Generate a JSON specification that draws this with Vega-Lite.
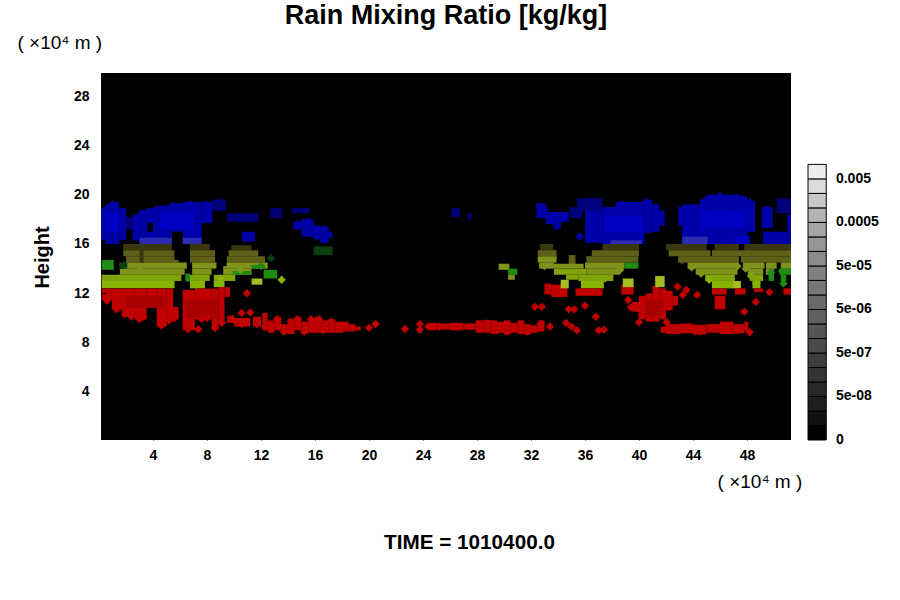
{
"$schema":"https://vega.github.io/schema/vega-lite/v6.json",
"background":"white",
"padding":{"left":12,"top":2,"right":5,"bottom":5},
"spacing":-2,
"config":{"font":"Liberation Sans","view":{"stroke":null}},
"datasets":{
"cells":[
{"x0":0.15,"x1":0.5,"y0":16.3,"y1":18.9,"k":"b1"},{"x0":0.5,"x1":1,"y0":16,"y1":19.2,"k":"b1"},{"x0":1,"x1":1.5,"y0":16,"y1":19.4,"k":"b1"},{"x0":1.5,"x1":2,"y0":16.3,"y1":18.9,"k":"b1"},{"x0":2,"x1":2.5,"y0":17.2,"y1":18.2,"k":"b0"},{"x0":2.5,"x1":3,"y0":16.3,"y1":18.4,"k":"b1"},{"x0":3,"x1":3.5,"y0":16,"y1":18.7,"k":"b1"},{"x0":3.5,"x1":4,"y0":16,"y1":18.9,"k":"b1"},{"x0":4,"x1":4.5,"y0":16,"y1":19,"k":"b1"},{"x0":4.5,"x1":5,"y0":16,"y1":19.1,"k":"b1"},{"x0":5,"x1":5.4,"y0":16.2,"y1":19.2,"k":"b1"},{"x0":5.4,"x1":6.2,"y0":17,"y1":19.3,"k":"b1"},{"x0":6.2,"x1":7.6,"y0":16,"y1":19.4,"k":"b1"},{"x0":7.6,"x1":8.4,"y0":17.7,"y1":19.4,"k":"b1"},{"x0":8.4,"x1":9.4,"y0":18.7,"y1":19.6,"k":"b0"},
{"x0":4.5,"x1":7,"y0":17.2,"y1":18.6,"k":"b2"},{"x0":0.5,"x1":1.5,"y0":17,"y1":18.5,"k":"b2"},{"x0":3,"x1":5.4,"y0":16,"y1":16.5,"k":"b3"},{"x0":6.2,"x1":7.6,"y0":16,"y1":16.5,"k":"b3"},{"x0":3.6,"x1":4,"y0":17,"y1":17.7,"k":"n"},
{"x0":9.5,"x1":11.8,"y0":17.8,"y1":18.5,"k":"b0"},{"x0":12.7,"x1":13.55,"y0":18.1,"y1":18.9,"k":"b0"},{"x0":10.6,"x1":11.55,"y0":16.2,"y1":17,"k":"b1"},{"x0":14.3,"x1":15.6,"y0":18.5,"y1":18.9,"k":"b0"},
{"x0":14.4,"x1":15,"y0":17.2,"y1":17.8,"k":"b1"},{"x0":15,"x1":15.9,"y0":16.6,"y1":18,"k":"b1"},{"x0":15.9,"x1":16.4,"y0":16.4,"y1":17.5,"k":"b1"},{"x0":16.4,"x1":17,"y0":16.1,"y1":17.4,"k":"b1"},{"x0":17,"x1":17.3,"y0":16.5,"y1":17,"k":"b1"},
{"x0":15.9,"x1":17.3,"y0":15.1,"y1":15.8,"k":"gd"},{"x0":26.1,"x1":26.75,"y0":18.2,"y1":18.9,"k":"b0"},{"x0":27.3,"x1":27.6,"y0":18,"y1":18.5,"k":"b0"},
{"x0":1.8,"x1":5.4,"y0":15.5,"y1":16,"k":"o0"},{"x0":6.74,"x1":8.2,"y0":15.5,"y1":16,"k":"o0"},{"x0":9.8,"x1":11.3,"y0":15.5,"y1":15.9,"k":"o0"},
{"x0":1.8,"x1":5.6,"y0":15,"y1":15.5,"k":"o1"},{"x0":6.74,"x1":8.6,"y0":15,"y1":15.5,"k":"o1"},{"x0":9.6,"x1":11.8,"y0":15,"y1":15.5,"k":"o1"},
{"x0":2,"x1":5.9,"y0":14.5,"y1":15,"k":"o1"},{"x0":6.74,"x1":8.6,"y0":14.5,"y1":15,"k":"o1"},{"x0":9.45,"x1":12.3,"y0":14.5,"y1":15,"k":"o1"},
{"x0":1.8,"x1":6.5,"y0":14,"y1":14.5,"k":"o2"},{"x0":6.9,"x1":8.7,"y0":14,"y1":14.5,"k":"o2"},{"x0":9.2,"x1":12.5,"y0":14,"y1":14.5,"k":"o2"},
{"x0":1.55,"x1":6.35,"y0":13.5,"y1":14,"k":"o2"},{"x0":6.9,"x1":8.35,"y0":13.5,"y1":14,"k":"o2"},{"x0":9.2,"x1":11.3,"y0":13.5,"y1":14,"k":"o2"},{"x0":11.3,"x1":12.3,"y0":14,"y1":14.3,"k":"g"},{"x0":9.9,"x1":11.3,"y0":13.5,"y1":13.8,"k":"g"},
{"x0":0.2,"x1":6.1,"y0":13,"y1":13.5,"k":"o4"},{"x0":6.74,"x1":8.2,"y0":13,"y1":13.5,"k":"o4"},{"x0":8.5,"x1":10.1,"y0":13,"y1":13.5,"k":"o4"},
{"x0":0.2,"x1":5.6,"y0":12.4,"y1":13,"k":"o3"},{"x0":6.74,"x1":7.85,"y0":12.4,"y1":13,"k":"o3"},{"x0":8.5,"x1":9.3,"y0":12.5,"y1":13,"k":"o3"},
{"x0":0.2,"x1":1.1,"y0":13.9,"y1":14.7,"k":"g"},{"x0":1.5,"x1":2.1,"y0":14,"y1":14.5,"k":"gd"},{"x0":6.4,"x1":6.75,"y0":12.95,"y1":13.6,"k":"g"},{"x0":3,"x1":3.3,"y0":14.5,"y1":16,"k":"o0"},{"x0":5.6,"x1":6,"y0":14.7,"y1":15.4,"k":"n"},{"x0":9,"x1":9.45,"y0":14.2,"y1":16,"k":"n"},{"x0":12.2,"x1":13.2,"y0":13.2,"y1":13.9,"k":"g"},{"x0":11.3,"x1":12.1,"y0":12.7,"y1":13.2,"k":"o5"},
{"x0":29.6,"x1":30.4,"y0":13.9,"y1":14.4,"k":"o2"},{"x0":30.3,"x1":31,"y0":13.5,"y1":14,"k":"g"},{"x0":30.3,"x1":30.8,"y0":13.1,"y1":13.5,"k":"o2"},
{"x0":0.2,"x1":0.95,"y0":11.46,"y1":12.38,"k":"r1"},{"x0":0.95,"x1":1.7,"y0":10.65,"y1":12.38,"k":"r1"},{"x0":1.7,"x1":2.66,"y0":10.1,"y1":12.38,"k":"r1"},{"x0":2.66,"x1":3.53,"y0":9.9,"y1":12.38,"k":"r1"},{"x0":3.53,"x1":4.27,"y0":10.8,"y1":12.38,"k":"r1"},{"x0":4.27,"x1":5,"y0":9.3,"y1":12.38,"k":"r1"},{"x0":5,"x1":5.5,"y0":9.9,"y1":12.38,"k":"r1"},{"x0":5.5,"x1":5.9,"y0":9.9,"y1":10.9,"k":"r1"},{"x0":6.2,"x1":7.1,"y0":9,"y1":12.28,"k":"r1"},{"x0":7.1,"x1":8.35,"y0":9.9,"y1":12.38,"k":"r1"},{"x0":8.35,"x1":8.85,"y0":9,"y1":12.38,"k":"r1"},{"x0":8.85,"x1":9.3,"y0":9.6,"y1":12.5,"k":"r1"},{"x0":9.3,"x1":9.7,"y0":11.7,"y1":12.5,"k":"r1"},
{"x0":2,"x1":4.9,"y0":10.8,"y1":11.8,"k":"r2"},{"x0":6.4,"x1":8.8,"y0":10,"y1":11.5,"k":"r2"},
{"x0":9.5,"x1":10,"y0":9.6,"y1":10.2,"k":"r1"},{"x0":10,"x1":11.2,"y0":9.3,"y1":10,"k":"r1"},{"x0":11.4,"x1":12,"y0":9.3,"y1":10.1,"k":"r1"},{"x0":12.1,"x1":12.5,"y0":9,"y1":10.4,"k":"r1"},{"x0":12.5,"x1":13,"y0":8.8,"y1":9.8,"k":"r1"},{"x0":13,"x1":13.5,"y0":9,"y1":10.1,"k":"r1"},{"x0":13.5,"x1":14,"y0":8.7,"y1":9.5,"k":"r1"},{"x0":14,"x1":14.5,"y0":8.7,"y1":9.9,"k":"r1"},{"x0":14.5,"x1":15,"y0":9,"y1":10.1,"k":"r1"},{"x0":15,"x1":15.5,"y0":8.7,"y1":9.7,"k":"r1"},{"x0":15.5,"x1":16,"y0":8.8,"y1":10,"k":"r1"},{"x0":16,"x1":16.5,"y0":8.8,"y1":10.1,"k":"r1"},{"x0":16.5,"x1":17,"y0":8.8,"y1":9.8,"k":"r1"},{"x0":17,"x1":17.5,"y0":8.8,"y1":9.9,"k":"r1"},{"x0":17.5,"x1":18,"y0":8.8,"y1":9.7,"k":"r1"},{"x0":18,"x1":18.5,"y0":8.9,"y1":9.7,"k":"r1"},{"x0":18.5,"x1":19,"y0":8.9,"y1":9.5,"k":"r1"},{"x0":19,"x1":19.4,"y0":9,"y1":9.3,"k":"r1"},
{"x0":24.4,"x1":25,"y0":9,"y1":9.6,"k":"r1"},{"x0":25,"x1":26,"y0":9.05,"y1":9.55,"k":"r1"},{"x0":26,"x1":27,"y0":9,"y1":9.6,"k":"r1"},{"x0":27,"x1":27.9,"y0":9.05,"y1":9.55,"k":"r1"},{"x0":27.9,"x1":28.5,"y0":8.8,"y1":9.8,"k":"r1"},{"x0":28.5,"x1":29,"y0":8.8,"y1":9.85,"k":"r1"},{"x0":29,"x1":29.5,"y0":8.7,"y1":9.8,"k":"r1"},{"x0":29.5,"x1":30,"y0":8.8,"y1":9.7,"k":"r1"},{"x0":30,"x1":30.5,"y0":8.65,"y1":9.8,"k":"r1"},{"x0":30.5,"x1":31,"y0":8.8,"y1":9.6,"k":"r1"},{"x0":31,"x1":31.5,"y0":8.7,"y1":9.8,"k":"r1"},{"x0":31.5,"x1":32,"y0":8.65,"y1":9.5,"k":"r1"},{"x0":32,"x1":32.5,"y0":8.8,"y1":9.4,"k":"r1"},{"x0":32.5,"x1":33,"y0":8.9,"y1":9.8,"k":"r1"},
{"x0":41.6,"x1":42,"y0":8.8,"y1":9.3,"k":"r1"},{"x0":42,"x1":43,"y0":8.7,"y1":9.5,"k":"r1"},{"x0":43,"x1":44,"y0":8.75,"y1":9.55,"k":"r1"},{"x0":44,"x1":45,"y0":8.65,"y1":9.45,"k":"r1"},{"x0":45,"x1":46,"y0":8.8,"y1":9.5,"k":"r1"},{"x0":46,"x1":47,"y0":8.7,"y1":9.7,"k":"r1"},{"x0":47,"x1":47.8,"y0":8.75,"y1":9.5,"k":"r1"},{"x0":47.8,"x1":48.1,"y0":8.9,"y1":9.7,"k":"r1"},
{"x0":32.4,"x1":33.1,"y0":18.1,"y1":19.3,"k":"b1"},{"x0":33.1,"x1":33.7,"y0":17.6,"y1":18.6,"k":"b1"},{"x0":33.7,"x1":34.2,"y0":17.2,"y1":18.6,"k":"b1"},{"x0":34.2,"x1":34.8,"y0":17.8,"y1":18.6,"k":"b1"},{"x0":34.9,"x1":35.8,"y0":18.1,"y1":19,"k":"b0"},{"x0":35.4,"x1":37.3,"y0":18.7,"y1":19.7,"k":"b0"},{"x0":36,"x1":37.3,"y0":16.1,"y1":18.7,"k":"b1"},{"x0":37.3,"x1":38.3,"y0":16,"y1":19,"k":"b1"},{"x0":38.3,"x1":40.4,"y0":16,"y1":19.4,"k":"b1"},{"x0":40.4,"x1":41,"y0":16.9,"y1":19.6,"k":"b1"},{"x0":41,"x1":41.5,"y0":17,"y1":19.2,"k":"b1"},{"x0":41.5,"x1":41.9,"y0":17.5,"y1":18.7,"k":"b1"},{"x0":37.5,"x1":40.3,"y0":17,"y1":18.3,"k":"b2"},{"x0":37.9,"x1":40.2,"y0":16,"y1":16.3,"k":"b3"},
{"x0":42.9,"x1":43.2,"y0":17.5,"y1":19,"k":"b1"},{"x0":43.2,"x1":44.5,"y0":16,"y1":19.2,"k":"b1"},{"x0":44.5,"x1":45.1,"y0":16,"y1":19.6,"k":"b1"},{"x0":45.1,"x1":47,"y0":16,"y1":20,"k":"b1"},{"x0":47,"x1":48,"y0":16.7,"y1":19.9,"k":"b1"},{"x0":48,"x1":48.6,"y0":17,"y1":19.5,"k":"b1"},{"x0":47,"x1":48.2,"y0":16,"y1":16.7,"k":"b2"},{"x0":43.2,"x1":45.1,"y0":16,"y1":16.6,"k":"b3"},{"x0":44.5,"x1":47.8,"y0":17.3,"y1":18.7,"k":"b2"},{"x0":49.1,"x1":49.9,"y0":17.3,"y1":19,"k":"b1"},{"x0":49.2,"x1":51,"y0":16,"y1":17,"k":"b1"},{"x0":50.2,"x1":51.26,"y0":18.5,"y1":19.7,"k":"b0"},{"x0":51,"x1":51.26,"y0":16,"y1":18.4,"k":"b1"},
{"x0":32.66,"x1":33.65,"y0":15.5,"y1":16,"k":"o0"},{"x0":37.3,"x1":40,"y0":15.5,"y1":16,"k":"o0"},{"x0":42,"x1":45,"y0":15.5,"y1":16,"k":"o0"},{"x0":45.6,"x1":47.4,"y0":15.5,"y1":16,"k":"o0"},{"x0":47.8,"x1":51.26,"y0":15.5,"y1":16,"k":"o0"},
{"x0":32.5,"x1":33.9,"y0":15,"y1":15.5,"k":"o1"},{"x0":36.5,"x1":40,"y0":15,"y1":15.5,"k":"o1"},{"x0":42.2,"x1":45.3,"y0":15,"y1":15.5,"k":"o1"},{"x0":45.4,"x1":51.26,"y0":15,"y1":15.5,"k":"o1"},
{"x0":32.5,"x1":33.9,"y0":14.5,"y1":15,"k":"o2"},{"x0":34.8,"x1":35.3,"y0":14.3,"y1":15.1,"k":"o1"},{"x0":36.1,"x1":39.95,"y0":14.5,"y1":15,"k":"o1"},{"x0":42.9,"x1":47.4,"y0":14.5,"y1":15,"k":"o1"},{"x0":47.55,"x1":51.26,"y0":14.5,"y1":15,"k":"o1"},
{"x0":32.6,"x1":33.7,"y0":14,"y1":14.5,"k":"o2"},{"x0":33.7,"x1":35.9,"y0":14,"y1":14.4,"k":"o2"},{"x0":36,"x1":38.9,"y0":14,"y1":14.5,"k":"o2"},{"x0":38.9,"x1":39.95,"y0":14,"y1":14.5,"k":"g"},{"x0":43.6,"x1":47.4,"y0":14,"y1":14.5,"k":"o2"},{"x0":47.7,"x1":49.3,"y0":14,"y1":14.5,"k":"o2"},{"x0":49.4,"x1":50.2,"y0":14,"y1":14.5,"k":"o2"},{"x0":50.5,"x1":51.26,"y0":14,"y1":14.5,"k":"o2"},
{"x0":33.7,"x1":36.1,"y0":13.5,"y1":14,"k":"o4"},{"x0":36.1,"x1":38.6,"y0":13.5,"y1":14,"k":"o2"},{"x0":44.2,"x1":47.3,"y0":13.5,"y1":14,"k":"o2"},{"x0":48.05,"x1":49.2,"y0":13.5,"y1":14,"k":"o2"},{"x0":49.4,"x1":50,"y0":13.5,"y1":14,"k":"o2"},{"x0":50.4,"x1":51.26,"y0":13.5,"y1":14,"k":"g"},
{"x0":34.6,"x1":35.5,"y0":13.1,"y1":13.5,"k":"o4"},{"x0":35.5,"x1":38.1,"y0":13,"y1":13.5,"k":"o4"},{"x0":44.9,"x1":47.1,"y0":13,"y1":13.5,"k":"o4"},{"x0":48.2,"x1":49.2,"y0":13,"y1":13.5,"k":"o4"},{"x0":49.6,"x1":50,"y0":13,"y1":13.5,"k":"g"},{"x0":50.5,"x1":50.9,"y0":13,"y1":13.5,"k":"g"},
{"x0":35.7,"x1":37.4,"y0":12.4,"y1":13,"k":"o3"},{"x0":45.4,"x1":46.9,"y0":12.4,"y1":13,"k":"o3"},{"x0":48.4,"x1":49,"y0":12.4,"y1":13,"k":"o3"},
{"x0":33,"x1":33.5,"y0":11.9,"y1":12.8,"k":"r1"},{"x0":33.5,"x1":34.7,"y0":11.7,"y1":12.7,"k":"r1"},{"x0":35.3,"x1":37.3,"y0":11.8,"y1":12.4,"k":"r1"},{"x0":38.7,"x1":39.6,"y0":11.9,"y1":12.7,"k":"r1"},{"x0":34.2,"x1":34.8,"y0":12.4,"y1":13.1,"k":"o5"},{"x0":38.8,"x1":39.6,"y0":12.5,"y1":13.2,"k":"o5"},{"x0":46.9,"x1":47.55,"y0":12.4,"y1":13,"k":"o5"},{"x0":45.4,"x1":46.5,"y0":11.9,"y1":12.4,"k":"r1"},{"x0":47.1,"x1":47.9,"y0":11.9,"y1":12.4,"k":"r1"},{"x0":48.5,"x1":49.2,"y0":12.1,"y1":12.4,"k":"r1"},{"x0":50.7,"x1":51.26,"y0":11.9,"y1":12.4,"k":"r1"},{"x0":45.6,"x1":46.4,"y0":10.7,"y1":11.8,"k":"r1"},
{"x0":39.5,"x1":40,"y0":10.5,"y1":11.3,"k":"r1"},{"x0":40,"x1":40.5,"y0":9.9,"y1":11.8,"k":"r1"},{"x0":40.5,"x1":41,"y0":9.7,"y1":12,"k":"r1"},{"x0":41,"x1":41.5,"y0":9.7,"y1":12.6,"k":"r1"},{"x0":41.5,"x1":42,"y0":9.9,"y1":12.4,"k":"r1"},{"x0":42,"x1":42.5,"y0":10.6,"y1":12.2,"k":"r1"},{"x0":42.5,"x1":42.9,"y0":11,"y1":11.8,"k":"r1"},{"x0":41.2,"x1":41.9,"y0":12.5,"y1":13.4,"k":"o5"},{"x0":40.5,"x1":41.8,"y0":10.2,"y1":11.4,"k":"r2"}
],
"dots":[
{"x":10.96,"y":12,"k":"r1"},{"x":10.56,"y":10.4,"k":"r1"},{"x":11.2,"y":10.45,"k":"r1"},{"x":7.35,"y":9.08,"k":"r1"},{"x":4.76,"y":9.5,"k":"r1"},{"x":20,"y":9.2,"k":"r1"},{"x":20.5,"y":9.5,"k":"r1"},{"x":22.66,"y":9.1,"k":"r1"},{"x":23.77,"y":9.5,"k":"r1"},{"x":23.77,"y":9.04,"k":"r1"},{"x":24.4,"y":9.3,"k":"r1"},{"x":32.3,"y":10.9,"k":"r1"},{"x":32.8,"y":10.9,"k":"r1"},{"x":34.8,"y":10.7,"k":"r1"},{"x":35.2,"y":10.7,"k":"r1"},{"x":36,"y":11,"k":"r1"},{"x":36.8,"y":10.1,"k":"r1"},{"x":33.4,"y":9.3,"k":"r1"},{"x":37,"y":9,"k":"r1"},{"x":37.4,"y":9.05,"k":"r1"},{"x":37,"y":12.06,"k":"r1"},{"x":34.6,"y":9.6,"k":"r1"},{"x":35,"y":9.3,"k":"r1"},{"x":35.4,"y":9,"k":"r1"},{"x":39.2,"y":11.46,"k":"r1"},{"x":39.4,"y":10.87,"k":"r1"},{"x":40.2,"y":10.2,"k":"r1"},{"x":40,"y":9.65,"k":"r1"},{"x":49.66,"y":12.1,"k":"r1"},{"x":48.65,"y":11.3,"k":"r1"},{"x":47.8,"y":10.5,"k":"r1"},{"x":44.3,"y":11.87,"k":"r1"},{"x":43.5,"y":12.27,"k":"r1"},{"x":43.25,"y":11.87,"k":"r1"},{"x":42.86,"y":12.54,"k":"r1"},{"x":42.05,"y":9.65,"k":"r1"},{"x":48.2,"y":8.84,"k":"r1"},{"x":12.74,"y":14.85,"k":"gd"},{"x":13.53,"y":13.1,"k":"o3"},{"x":35.6,"y":16.6,"k":"b1"},{"x":50.7,"y":12.8,"k":"g"},
{"x":0.6,"y":11.4,"k":"r1"},{"x":1.3,"y":10.7,"k":"r1"},{"x":1.9,"y":10.3,"k":"r1"},{"x":2.4,"y":10.1,"k":"r1"},{"x":3,"y":9.9,"k":"r1"},{"x":3.3,"y":10.1,"k":"r1"},{"x":4.6,"y":9.4,"k":"r1"},{"x":5.2,"y":9.8,"k":"r1"},{"x":5.6,"y":10,"k":"r1"},{"x":6.6,"y":9.1,"k":"r1"},{"x":7.6,"y":9.9,"k":"r1"},{"x":8,"y":10,"k":"r1"},{"x":8.6,"y":9.2,"k":"r1"},{"x":9.1,"y":9.6,"k":"r1"},{"x":9.9,"y":9.9,"k":"r1"},{"x":10.6,"y":9.5,"k":"r1"},{"x":11.7,"y":9.5,"k":"r1"},{"x":12.3,"y":9.3,"k":"r1"},
{"x":13.2,"y":9.9,"k":"r1"},{"x":14.2,"y":9.7,"k":"r1"},{"x":14.7,"y":9.9,"k":"r1"},{"x":15.7,"y":9.9,"k":"r1"},{"x":16.3,"y":9.9,"k":"r1"},{"x":17.2,"y":9.7,"k":"r1"},{"x":13.7,"y":8.9,"k":"r1"},{"x":15.2,"y":8.9,"k":"r1"},{"x":16.6,"y":9,"k":"r1"},{"x":18,"y":9.1,"k":"r1"},{"x":25.2,"y":9.3,"k":"r1"},{"x":26.5,"y":9.3,"k":"r1"},{"x":27.5,"y":9.3,"k":"r1"},{"x":28.2,"y":9.5,"k":"r1"},{"x":29.5,"y":9,"k":"r1"},{"x":30.2,"y":8.9,"k":"r1"},{"x":31.2,"y":9,"k":"r1"},{"x":31.7,"y":8.9,"k":"r1"},{"x":32.7,"y":9.5,"k":"r1"},{"x":43,"y":9,"k":"r1"},{"x":44.5,"y":8.9,"k":"r1"},{"x":46.5,"y":9.4,"k":"r1"},{"x":47.3,"y":9,"k":"r1"},
{"x":1,"y":19.2,"k":"b1"},{"x":0.6,"y":18.9,"k":"b1"},{"x":3.2,"y":18.5,"k":"b1"},{"x":4.3,"y":18.8,"k":"b1"},{"x":5.5,"y":19.1,"k":"b1"},{"x":6.8,"y":19.2,"k":"b1"},{"x":7.9,"y":19.2,"k":"b1"},{"x":8.9,"y":19.4,"k":"b0"},{"x":10.3,"y":18.2,"k":"b0"},{"x":11.2,"y":18.2,"k":"b0"},{"x":13.1,"y":18.5,"k":"b0"},{"x":15.4,"y":17.8,"k":"b1"},{"x":14.7,"y":17.6,"k":"b1"},{"x":16.7,"y":17.2,"k":"b1"},{"x":16.2,"y":16.6,"k":"b1"},{"x":33,"y":18.8,"k":"b1"},{"x":33.9,"y":17.5,"k":"b1"},{"x":34.2,"y":18,"k":"b1"},{"x":36.5,"y":19.5,"k":"b0"},{"x":38.8,"y":19.2,"k":"b1"},{"x":40.5,"y":19.4,"k":"b1"},{"x":43.6,"y":18.9,"k":"b1"},{"x":45,"y":19.6,"k":"b1"},{"x":46,"y":19.9,"k":"b1"},{"x":47.2,"y":19.8,"k":"b1"},{"x":48.2,"y":19.4,"k":"b1"},{"x":49.5,"y":18.8,"k":"b1"},{"x":50.6,"y":19.4,"k":"b0"},
{"x":43.2,"y":14.7,"k":"o1"},{"x":43.9,"y":14.1,"k":"o2"},{"x":44.6,"y":13.6,"k":"o2"},{"x":45.2,"y":13.1,"k":"o3"},{"x":47.3,"y":14.2,"k":"o2"},{"x":47.9,"y":14,"k":"o2"},{"x":48.3,"y":13.4,"k":"o4"},{"x":48.7,"y":12.8,"k":"o3"},{"x":49.8,"y":13.7,"k":"g"},{"x":50.6,"y":13.8,"k":"g"},{"x":3,"y":13.9,"k":"o2"},{"x":37.5,"y":13.2,"k":"o4"},{"x":38.6,"y":13.9,"k":"o2"},{"x":33,"y":14.2,"k":"o2"},{"x":9,"y":13.2,"k":"o3"},{"x":7.2,"y":12.7,"k":"o3"},{"x":12,"y":14.2,"k":"g"},{"x":10.5,"y":13.9,"k":"o2"},{"x":12.7,"y":13.6,"k":"g"}
],
"notes":[{"x":-2.9,"y":32.3,"label":"( ×10⁴   m )"},{"x":48.96,"y":-3.3,"label":"( ×10⁴   m )"}],
"levels":[
{"lo":0,"hi":1},{"lo":1,"hi":2},{"lo":2,"hi":3},{"lo":3,"hi":4},{"lo":4,"hi":5},{"lo":5,"hi":6},{"lo":6,"hi":7},{"lo":7,"hi":8},{"lo":8,"hi":9},{"lo":9,"hi":10},{"lo":10,"hi":11},{"lo":11,"hi":12},{"lo":12,"hi":13},{"lo":13,"hi":14},{"lo":14,"hi":15},{"lo":15,"hi":16},{"lo":16,"hi":17},{"lo":17,"hi":18},{"lo":18,"hi":19}
],
"levelLabels":[{"at":0,"label":"0"},{"at":3,"label":"5e-08"},{"at":6,"label":"5e-07"},{"at":9,"label":"5e-06"},{"at":12,"label":"5e-05"},{"at":15,"label":"0.0005"},{"at":18,"label":"0.005"}]
},
"hconcat":[
{
"width":690,"height":367,
"view":{"fill":"black","stroke":null},
"title":{"text":"Rain Mixing Ratio [kg/kg]","fontSize":27,"fontWeight":"bold","font":"Liberation Sans","anchor":"middle","offset":4,"color":"black"},
"layer":[
{"data":{"name":"cells"},"mark":{"type":"rect"},
"encoding":{
"x":{"field":"x0","type":"quantitative","scale":{"domain":[0.15,51.26],"nice":false,"zero":false},
"axis":{"values":[4,8,12,16,20,24,28,32,36,40,44,48],"grid":false,"domain":false,"tickSize":-5,"tickColor":"black","zindex":1,"labelFont":"Liberation Sans","labelFontSize":14,"labelFontWeight":"bold","labelColor":"black","labelPadding":13,"title":"TIME = 1010400.0","titleFont":"Liberation Sans","titleFontSize":20.7,"titleFontWeight":"bold","titleColor":"black","titleX":368,"titleY":92}},
"x2":{"field":"x1"},
"y":{"field":"y0","type":"quantitative","scale":{"domain":[0.1,29.87],"nice":false,"zero":false},
"axis":{"values":[4,8,12,16,20,24,28],"grid":false,"domain":false,"tickSize":-5,"tickColor":"black","zindex":1,"labelFont":"Liberation Sans","labelFontSize":14,"labelFontWeight":"bold","labelColor":"black","labelPadding":17,"title":"Height","titleFont":"Liberation Sans","titleFontSize":20,"titleFontWeight":"bold","titleColor":"black","titleX":-49,"titleY":184}},
"y2":{"field":"y1"},
"fill":{"field":"k","type":"nominal","legend":null,"scale":{"domain":["n","b0","b1","b2","b3","o0","o1","o2","o3","o4","o5","g","gd","r1","r2"],"range":["#000000","#00007a","#0000aa","#0000c4","#2c2cb0","#3a360e","#5e6018","#7f921a","#86b400","#7fa308","#a4bc20","#1f8a14","#0c4010","#c00000","#a80000"]}}
}},
{"data":{"name":"dots"},"mark":{"type":"point","shape":"diamond","filled":true,"size":70,"opacity":1},
"encoding":{
"x":{"field":"x","type":"quantitative"},
"y":{"field":"y","type":"quantitative"},
"fill":{"field":"k","type":"nominal","legend":null}
}},
{"data":{"name":"notes"},"mark":{"type":"text","font":"Liberation Sans","fontSize":19,"color":"black","align":"center","baseline":"middle"},
"encoding":{
"x":{"field":"x","type":"quantitative"},
"y":{"field":"y","type":"quantitative"},
"text":{"field":"label","type":"nominal"}
}}
]
},
{
"width":73,"height":367,
"layer":[
{"data":{"name":"levels"},"mark":{"type":"rect","stroke":"black","strokeWidth":1},
"encoding":{
"x":{"datum":0,"type":"quantitative","scale":{"domain":[0,4],"nice":false,"zero":false},"axis":null},
"x2":{"datum":1},
"y":{"field":"lo","type":"quantitative","scale":{"domain":[0,25.3],"nice":false,"zero":false},"axis":null},
"y2":{"field":"hi"},
"fill":{"field":"lo","type":"ordinal","legend":null,"scale":{"range":["#000000","#111111","#1e1e1e","#282828","#333333","#3d3d3d","#4a4a4a","#555555","#606060","#6a6a6a","#777777","#808080","#8b8b8b","#969696","#a6a6a6","#b4b4b4","#c8c8c8","#dcdcdc","#ececec"]}}
}},
{"data":{"name":"levelLabels"},"mark":{"type":"text","font":"Liberation Sans","fontSize":14,"fontWeight":"bold","color":"black","align":"left","baseline":"middle"},
"encoding":{
"x":{"datum":1.53,"type":"quantitative"},
"y":{"field":"at","type":"quantitative"},
"text":{"field":"label","type":"nominal"}
}}
]
}
],
"resolve":{"scale":{"fill":"independent"}}
}
